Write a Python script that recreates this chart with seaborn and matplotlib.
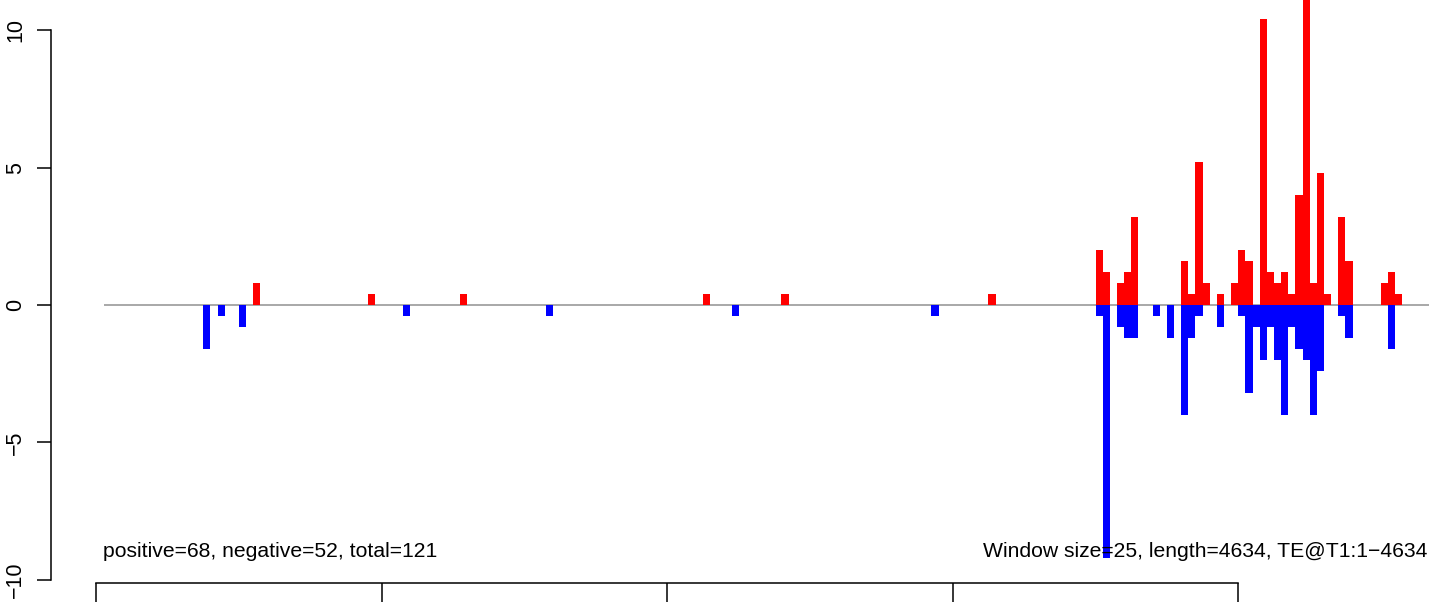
import numpy as np
import matplotlib
matplotlib.use("Agg")
import matplotlib.pyplot as plt
import seaborn as sns

# ---- data (window index -> value), window size 25, length 4634 ----
window_size = 25
seq_length = 4634
pos_bins = [22, 38, 51, 85, 96, 125, 140, 141, 143, 144, 145, 152, 153, 154, 155,
            157, 159, 160, 161, 163, 164, 165, 166, 167, 168, 169, 170, 171, 172,
            174, 175, 180, 181, 182]
pos_vals = [0.8, 0.4, 0.4, 0.4, 0.4, 0.4, 2.0, 1.2, 0.8, 1.2, 3.2, 1.6, 0.4, 5.2, 0.8,
            0.4, 0.8, 2.0, 1.6, 10.4, 1.2, 0.8, 1.2, 0.4, 4.0, 11.6, 0.8, 4.8, 0.4,
            3.2, 1.6, 0.8, 1.2, 0.4]
neg_bins = [15, 17, 20, 43, 63, 89, 117, 140, 141, 143, 144, 145, 148, 150, 152,
            153, 154, 157, 160, 161, 162, 163, 164, 165, 166, 167, 168, 169, 170,
            171, 174, 175, 181]
neg_vals = [1.6, 0.4, 0.8, 0.4, 0.4, 0.4, 0.4, 0.4, 9.2, 0.8, 1.2, 1.2, 0.4, 1.2, 4.0,
            1.2, 0.4, 0.8, 0.4, 3.2, 0.8, 2.0, 0.8, 2.0, 4.0, 0.8, 1.6, 2.0, 4.0,
            2.4, 0.4, 1.2, 1.6]
y_ticks = [-10, -5, 0, 5, 10]
x_ticks = [0, 1000, 2000, 3000, 4000]
left_note = "positive=68, negative=52, total=121"
right_note = "Window size=25, length=4634, TE@T1:1\u22124634"

n_bins = int(np.ceil(seq_length / window_size))
centers = window_size * np.arange(n_bins) + window_size / 2
pos_full = np.zeros(n_bins)
pos_full[pos_bins] = pos_vals
neg_full = np.zeros(n_bins)
neg_full[neg_bins] = -np.array(neg_vals)

sns.set_style("white")
plt.rcParams["font.family"] = ["Liberation Sans", "DejaVu Sans"]
plt.rcParams["text.color"] = "black"

W, H = 1429, 602
fig = plt.figure(figsize=(W / 100, H / 100), dpi=100)
ax = fig.add_axes([0, 0, 1, 1])
ax.set_facecolor("white")

# zero line
ax.plot([27, 4700], [0, 0], color="#9a9a9a", lw=1.2, zorder=0.5, solid_capstyle="butt")

sns.barplot(x=centers, y=pos_full, native_scale=True, width=1, color="#FF0000",
            saturation=1, linewidth=0, errorbar=None, ax=ax, zorder=2)
sns.barplot(x=centers, y=neg_full, native_scale=True, width=1, color="#0000FF",
            saturation=1, linewidth=0, errorbar=None, ax=ax, zorder=2)

# pixel mapping
px_per_bp = 0.2855
x0_px = 96.3
y0_px = 305
px_per_unit = 27.48
ax.set_xlim(-x0_px / px_per_bp, (W - x0_px) / px_per_bp)
ax.set_ylim(-(H - y0_px) / px_per_unit, y0_px / px_per_unit)

ax.set_xlabel("")
ax.set_ylabel("")
for s in ("top", "right"):
    ax.spines[s].set_visible(False)
ax.spines["left"].set_position(("data", (51 - x0_px) / px_per_bp))
ax.spines["left"].set_bounds(-10, 10)
ax.spines["bottom"].set_position(("data", -(583 - y0_px) / px_per_unit))
ax.spines["bottom"].set_bounds(0, 4000)
for s in ("left", "bottom"):
    ax.spines[s].set_color("black")
    ax.spines[s].set_linewidth(1.1)

ax.set_yticks(y_ticks)
ax.set_yticklabels([str(v).replace("-", "\u2212") for v in y_ticks],
                   rotation=90, va="center")
ax.set_xticks(x_ticks)
ax.set_xticklabels([""] * len(x_ticks))
ax.tick_params(axis="y", direction="out", length=10, width=1.1, pad=8,
               labelsize=15.5, colors="black", labelcolor="black", left=True)
ax.tick_params(axis="x", direction="out", length=16, width=1.1, bottom=True,
               colors="black")

fig.text(103 / W, 1 - 557 / H, left_note, fontsize=15.2, ha="left", va="baseline",
         color="black")
fig.text(1427 / W, 1 - 557 / H, right_note, fontsize=15.2, ha="right", va="baseline",
         color="black")

fig.savefig("out.png", dpi=100, facecolor="white")
